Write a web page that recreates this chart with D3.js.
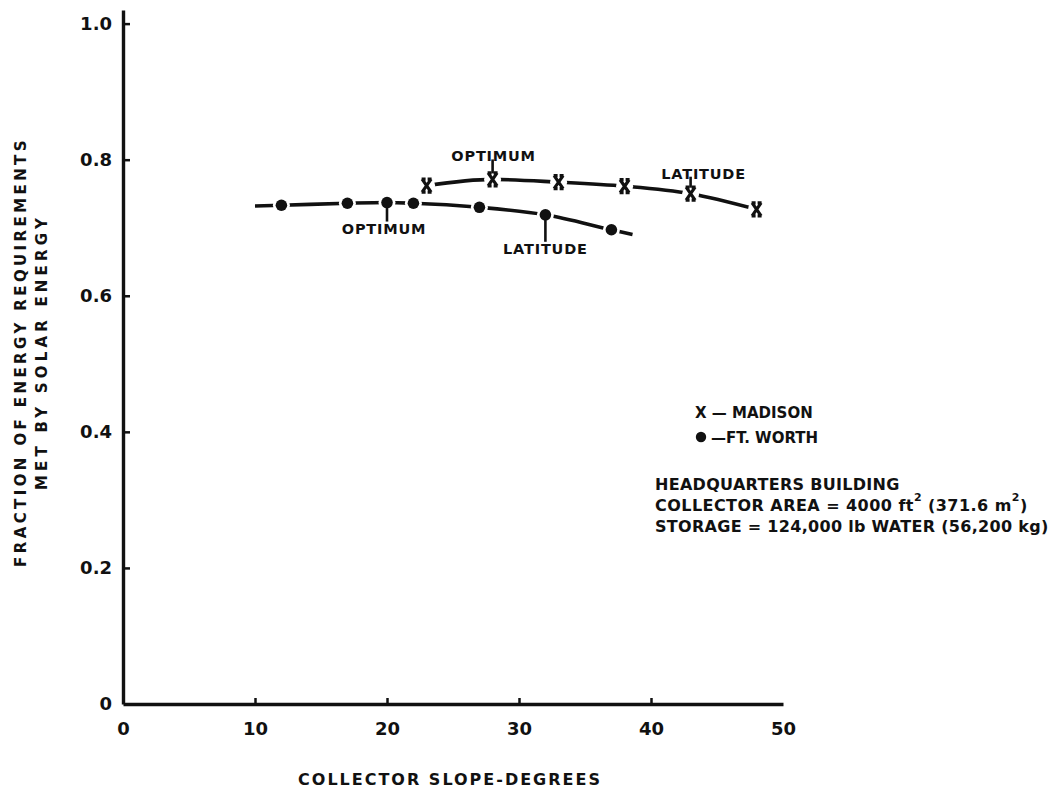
<!DOCTYPE html>
<html>
<head>
<meta charset="utf-8">
<script src="https://cdn.jsdelivr.net/npm/d3@7"></script>
<style>
  html, body { margin: 0; padding: 0; background: #fff; }
  svg { display: block; }
  text { font-family: "DejaVu Sans", "Liberation Sans", Arial, sans-serif; font-weight: bold; fill: #111; }
</style>
</head>
<body>
<svg id="chart" width="1053" height="791"></svg>
<script>
// Collector slope (degrees) and fraction of load met by solar energy
const madisonSlope = [23, 28, 33, 38, 43, 48];
const madisonFraction = [0.762, 0.771, 0.767, 0.761, 0.750, 0.727];

const fortWorthSlope = [12, 17, 20, 22, 27, 32, 37];
const fortWorthFraction = [0.733, 0.736, 0.737, 0.736, 0.730, 0.719, 0.697];
// the drawn Ft. Worth curve runs a little past its first and last points
const fortWorthCurveEnds = [[10, 0.732], [38.6, 0.690]];

const xTicks = [0, 10, 20, 30, 40, 50];
const yTicks = [0, 0.2, 0.4, 0.6, 0.8, 1.0];
const yTickLabels = ["0", "0.2", "0.4", "0.6", "0.8", "1.0"];

// callouts: series, slope of the marked point, label
const callouts = [
  { series: "madison", slope: 28, label: "OPTIMUM", side: "above", gap: 18, dx: 1 },
  { series: "madison", slope: 43, label: "LATITUDE", side: "above", gap: 15, dx: 13 },
  { series: "fortWorth", slope: 20, label: "OPTIMUM", side: "below", gap: 31, dx: -3 },
  { series: "fortWorth", slope: 32, label: "LATITUDE", side: "below", gap: 39, dx: 0 }
];

const legendItems = ["X \u2014 MADISON", "\u2014FT. WORTH"];
const noteLines = ["HEADQUARTERS BUILDING", "COLLECTOR AREA", "STORAGE"];

const svg = d3.select("#chart");
const ink = "#111";

const x = d3.scaleLinear().domain([0, 50]).range([123, 783]);
const y = d3.scaleLinear().domain([0, 1.02]).range([704, 10]);

// ---- axes ----
const xAxis = d3.axisBottom(x)
  .tickValues(xTicks)
  .tickSizeInner(-6)
  .tickSizeOuter(0)
  .tickPadding(18)
  .tickFormat(d3.format("d"));

const gx = svg.append("g").attr("transform", `translate(0,${y(0)})`).call(xAxis);
gx.select(".domain").attr("stroke", ink).attr("stroke-width", 3.4);
gx.selectAll(".tick line").attr("stroke", ink).attr("stroke-width", 2.5)
  .attr("display", d => (d === 0 || d === 50) ? "none" : null);
gx.selectAll(".tick text").attr("font-size", 18).attr("fill", ink).attr("font-weight", "bold");

const yAxis = d3.axisLeft(y)
  .tickValues(yTicks)
  .tickSizeInner(-7)
  .tickSizeOuter(0)
  .tickPadding(11)
  .tickFormat((d, i) => yTickLabels[i]);

const gy = svg.append("g").attr("transform", `translate(${x(0)},0)`).call(yAxis);
gy.select(".domain").attr("stroke", ink).attr("stroke-width", 3.4);
gy.selectAll(".tick line").attr("stroke", ink).attr("stroke-width", 2.5)
  .attr("display", d => d === 0 ? "none" : null);
gy.selectAll(".tick text").attr("font-size", 18).attr("fill", ink).attr("font-weight", "bold");
// let the axis labels use the page font
svg.selectAll("g").attr("font-family", null);

// axis titles
svg.append("text")
  .attr("x", 450).attr("y", 785)
  .attr("text-anchor", "middle")
  .attr("font-size", 16).attr("letter-spacing", 2)
  .text("COLLECTOR SLOPE-DEGREES");

const yTitle = svg.append("text")
  .attr("transform", "translate(26,352) rotate(-90)")
  .attr("text-anchor", "middle")
  .attr("font-size", 15);
yTitle.append("tspan").attr("x", 0).attr("dy", 0).attr("letter-spacing", 3.4)
  .text("FRACTION OF ENERGY REQUIREMENTS");
yTitle.append("tspan").attr("x", 0).attr("dy", 21).attr("letter-spacing", 4.2)
  .text("MET BY SOLAR ENERGY");

// ---- series ----
const madison = madisonSlope.map((s, i) => [s, madisonFraction[i]]);
const fortWorth = fortWorthSlope.map((s, i) => [s, fortWorthFraction[i]]);
const fortWorthCurve = [fortWorthCurveEnds[0], ...fortWorth, fortWorthCurveEnds[1]];

const line = d3.line()
  .x(d => x(d[0])).y(d => y(d[1]))
  .curve(d3.curveMonotoneX);

svg.append("path").datum(madison)
  .attr("d", line).attr("fill", "none")
  .attr("stroke", ink).attr("stroke-width", 3.6);
svg.append("path").datum(fortWorthCurve)
  .attr("d", line).attr("fill", "none")
  .attr("stroke", ink).attr("stroke-width", 3.6);

// white clearings so each line stops short of its markers
svg.append("g").selectAll("circle")
  .data(madison.concat(fortWorth))
  .join("circle")
  .attr("cx", d => x(d[0])).attr("cy", d => y(d[1]))
  .attr("r", 8.5).attr("fill", "#fff");

// Madison: X markers
svg.append("g").selectAll("path")
  .data(madison)
  .join("path")
  .attr("transform", d => `translate(${x(d[0])},${y(d[1])})`)
  .attr("d", "M-4.5,-6.5L4.5,6.5M4.5,-6.5L-4.5,6.5M-5,-6.5L-1,-6.5M1,-6.5L5,-6.5M-5,6.5L-1,6.5M1,6.5L5,6.5")
  .attr("stroke", ink).attr("stroke-width", 3.2).attr("fill", "none");

// Ft. Worth: dots
svg.append("g").selectAll("circle")
  .data(fortWorth)
  .join("circle")
  .attr("cx", d => x(d[0])).attr("cy", d => y(d[1]))
  .attr("r", 5.8).attr("fill", ink);

// ---- OPTIMUM / LATITUDE callouts ----
const seriesValue = { madison: madison, fortWorth: fortWorth };
callouts.forEach(c => {
  const pt = seriesValue[c.series].find(d => d[0] === c.slope);
  const px = x(pt[0]), py = y(pt[1]);
  let base, y1, y2;
  if (c.side === "above") {
    base = py - c.gap;
    y1 = base - 2; y2 = py - 6;
  } else {
    base = py + c.gap;
    y1 = py + 5; y2 = base - 12;
  }
  svg.append("line")
    .attr("x1", px).attr("x2", px)
    .attr("y1", y1).attr("y2", y2)
    .attr("stroke", ink).attr("stroke-width", 2.6);
  svg.append("text")
    .attr("x", px + c.dx).attr("y", base)
    .attr("text-anchor", "middle").attr("font-size", 14.5).attr("letter-spacing", 0.8)
    .text(c.label);
});

// ---- legend ----
svg.append("text")
  .attr("x", 695).attr("y", 418)
  .attr("font-size", 15)
  .text(legendItems[0]);
svg.append("circle").attr("cx", 701).attr("cy", 437).attr("r", 5.2).attr("fill", ink);
svg.append("text")
  .attr("x", 711).attr("y", 443)
  .attr("font-size", 15)
  .text(legendItems[1]);

// ---- building notes ----
const notes = svg.append("g").attr("font-size", 16);
notes.append("text").attr("x", 655).attr("y", 490).attr("letter-spacing", 0.3)
  .text(noteLines[0]);
const area = notes.append("text").attr("x", 655).attr("y", 511).attr("letter-spacing", 0.45);
area.append("tspan").text(noteLines[1] + " = 4000 ft");
area.append("tspan").attr("dy", -10).attr("font-size", 11).text("2");
area.append("tspan").attr("dy", 10).text(" (371.6 m");
area.append("tspan").attr("dy", -10).attr("font-size", 11).text("2");
area.append("tspan").attr("dy", 10).text(")");
notes.append("text").attr("x", 655).attr("y", 532).attr("letter-spacing", 0.3)
  .text(noteLines[2] + " = 124,000 lb  WATER (56,200 kg)");
</script>
</body>
</html>
